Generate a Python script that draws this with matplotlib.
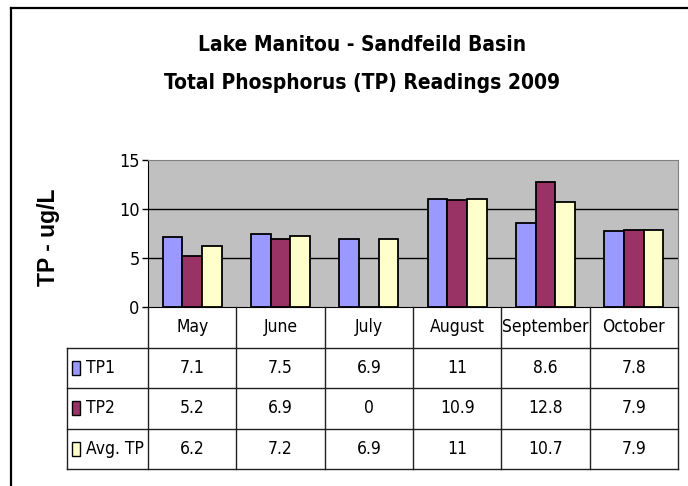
import numpy as np
import matplotlib.pyplot as plt
from matplotlib.patches import Rectangle
from matplotlib.lines import Line2D

# data
months = ['May', 'June', 'July', 'August', 'September', 'October']
series_names = ['TP1', 'TP2', 'Avg. TP']
tp1 = [7.1, 7.5, 6.9, 11, 8.6, 7.8]
tp2 = [5.2, 6.9, 0, 10.9, 12.8, 7.9]
avg_tp = [6.2, 7.2, 6.9, 11, 10.7, 7.9]
yticks = [0, 5, 10, 15]

colors = ['#9999FF', '#993366', '#FFFFCC']
series = [tp1, tp2, avg_tp]

plt.rcParams['font.family'] = ['DejaVu Sans']
plt.rcParams['font.stretch'] = 'condensed'

W, H = 688, 486
fig = plt.figure(figsize=(W / 100, H / 100), dpi=100)


def box(x0, y0, x1, y1):
    # pixel box (y from top) -> figure fraction rect
    return [x0 / W, 1 - y1 / H, (x1 - x0) / W, (y1 - y0) / H]


# outer frame (cut off at right and bottom)
fig.add_artist(Line2D([11 / W, 1], [1 - 8 / H] * 2, color='black', lw=1.6))
fig.add_artist(Line2D([11 / W] * 2, [1 - 8 / H, 0], color='black', lw=1.6))

fig.text(362 / W, 1 - 45 / H, 'Lake Manitou - Sandfeild Basin',
         ha='center', va='center', fontsize=15, fontweight='bold')
fig.text(362 / W, 1 - 83 / H, 'Total Phosphorus (TP) Readings 2009',
         ha='center', va='center', fontsize=15, fontweight='bold')
fig.text(48 / W, 1 - 237 / H, 'TP - ug/L', rotation=90, ha='center', va='center',
         fontsize=16.5, fontweight='bold', family=['Liberation Sans', 'DejaVu Sans'],
         fontstretch='normal')

# chart
ax = fig.add_axes(box(148, 160, 678, 307))
ax.set_facecolor('#C0C0C0')
x = np.arange(len(months))
bw = 1 / 4.5
for i, (vals, c) in enumerate(zip(series, colors)):
    ax.bar(x + (i - 1) * bw, vals, width=bw, color=c, edgecolor='black',
           linewidth=1.3, zorder=3)
ax.set_xlim(-0.5, len(months) - 0.5)
ax.set_ylim(0, 15)
ax.set_yticks(yticks)
ax.set_xticks([])
ax.tick_params(axis='y', length=4, width=1, pad=2, labelsize=13)
for v in yticks[1:-1]:
    ax.axhline(v, color='black', lw=1, zorder=1)
for s in ['top', 'right']:
    ax.spines[s].set_color('#808080')
for s in ['left', 'bottom']:
    ax.spines[s].set_color('black')

# data table
col_px = 530 / len(months)
left = -0.5 - 81 / col_px
tb = fig.add_axes(box(67, 307, 678, 469))
tb.set_xlim(left, len(months) - 0.5)
tb.set_ylim(4, 0)
tb.axis('off')
lc = '#202020'
for k in range(len(months) + 1):
    tb.plot([k - 0.5] * 2, [0, 4], color=lc, lw=1, clip_on=False)
tb.plot([left] * 2, [1, 4], color=lc, lw=1, clip_on=False)
for r in range(1, 5):
    tb.plot([left, len(months) - 0.5], [r, r], color=lc, lw=1, clip_on=False)

for j, m in enumerate(months):
    tb.text(j, 0.5, m, ha='center', va='center', fontsize=12.5)
for i, (name, vals, c) in enumerate(zip(series_names, series, colors)):
    r = i + 1
    tb.add_patch(Rectangle((left + 5 / col_px, r + 0.5 - 0.17), 8 / col_px, 0.34,
                           facecolor=c, edgecolor='black', lw=1))
    tb.text(left + 19 / col_px, r + 0.5, name, ha='left', va='center', fontsize=12.5)
    for j, v in enumerate(vals):
        tb.text(j, r + 0.5, f'{v:g}', ha='center', va='center', fontsize=12.5)

fig.savefig('out.png', dpi=100)
